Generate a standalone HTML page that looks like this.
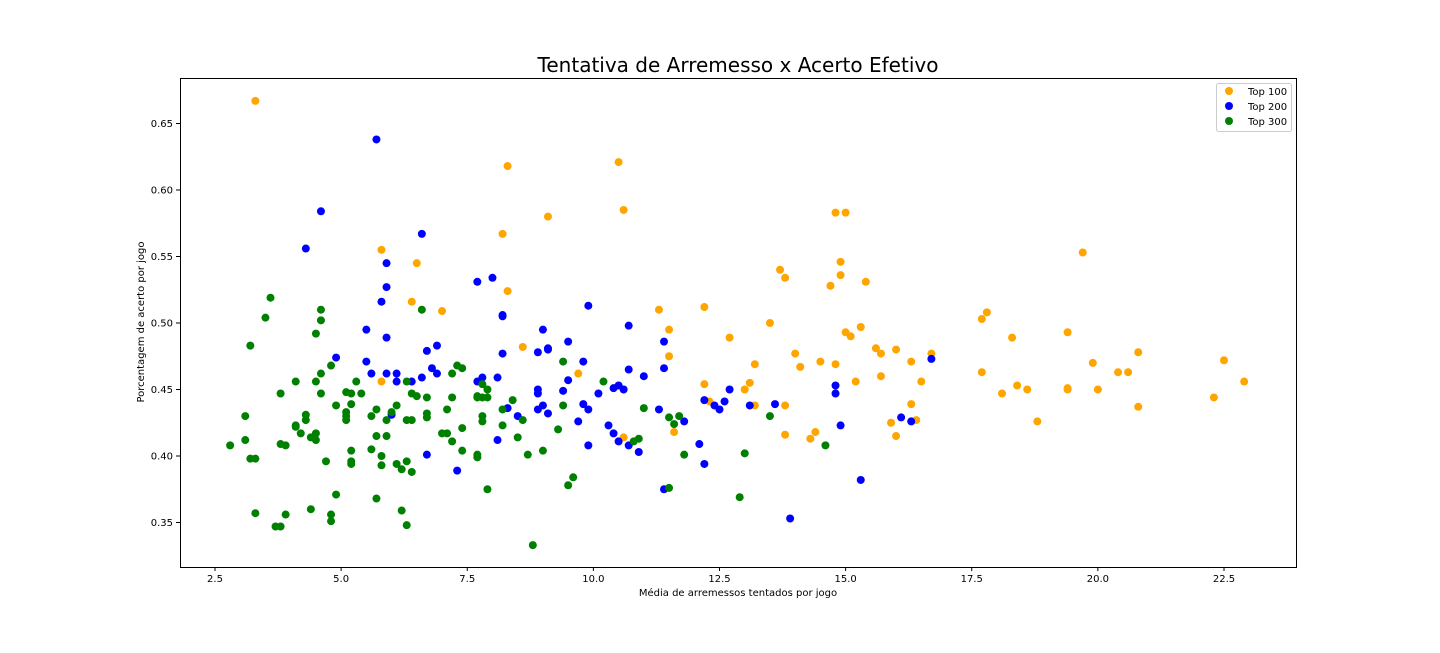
<!DOCTYPE html>
<html><head><meta charset="utf-8"><style>
body{margin:0;background:#fff;width:1440px;height:648px;overflow:hidden;font-family:"Liberation Sans","DejaVu Sans",sans-serif}
svg text{font-family:"DejaVu Sans","Liberation Sans",sans-serif}
</style></head><body>
<svg id="chart" width="1440" height="648" xmlns="http://www.w3.org/2000/svg">
<text x="738" y="72" font-size="20" text-anchor="middle" fill="#000">Tentativa de Arremesso x Acerto Efetivo</text>
<g id="plot"></g>
<rect x="180.5" y="78.5" width="1116" height="489" fill="none" stroke="#000" stroke-width="1"/>
<g id="xticks"></g><g id="yticks"></g>
<text x="738" y="596" font-size="10" text-anchor="middle">Média de arremessos tentados por jogo</text>
<text x="144" y="322" font-size="10" text-anchor="middle" transform="rotate(-90 144 322)">Porcentagem de acerto por jogo</text>
<g>
<rect x="1216.5" y="83.5" width="75" height="48" rx="2" fill="#fff" stroke="#ccc"/>
<g><circle cx="1229" cy="91" r="4" fill="orange"/><text x="1248" y="95" font-size="10">Top 100</text></g>
<g><circle cx="1229" cy="106" r="4" fill="blue"/><text x="1248" y="110" font-size="10">Top 200</text></g>
<g><circle cx="1229" cy="121" r="4" fill="green"/><text x="1248" y="125" font-size="10">Top 300</text></g>
</g>
</svg>
<script>
const xTicks=[2.5,5.0,7.5,10.0,12.5,15.0,17.5,20.0,22.5];
const yTicks=[0.35,0.40,0.45,0.50,0.55,0.60,0.65];
const top100X=[3.3,5.8,5.8,6.5,6.4,7.0,8.2,8.3,8.3,8.6,9.1,9.7,10.5,10.6,10.6,11.3,11.5,11.5,11.6,12.2,12.2,12.3,12.7,13.0,13.1,13.2,13.2,13.5,13.7,13.8,13.8,13.8,14.0,14.1,14.3,14.4,14.5,14.7,14.8,14.8,14.9,14.9,15.0,15.0,15.1,15.2,15.3,15.4,15.6,15.7,15.7,15.9,16.0,16.0,16.3,16.3,16.4,16.5,16.7,17.7,17.8,17.7,18.1,18.3,18.4,18.6,18.8,19.4,19.4,19.4,19.7,19.9,20.0,20.4,20.6,20.8,20.8,22.3,22.5,22.9];
const top100Y=[0.667,0.555,0.456,0.545,0.516,0.509,0.567,0.618,0.524,0.482,0.580,0.462,0.621,0.585,0.414,0.510,0.495,0.475,0.418,0.512,0.454,0.441,0.489,0.450,0.455,0.469,0.438,0.500,0.540,0.534,0.438,0.416,0.477,0.467,0.413,0.418,0.471,0.528,0.583,0.469,0.546,0.536,0.583,0.493,0.490,0.456,0.497,0.531,0.481,0.477,0.460,0.425,0.480,0.415,0.471,0.439,0.427,0.456,0.477,0.503,0.508,0.463,0.447,0.489,0.453,0.450,0.426,0.493,0.451,0.450,0.553,0.470,0.450,0.463,0.463,0.478,0.437,0.444,0.472,0.456];
const top200X=[4.3,4.6,4.9,5.5,5.5,5.6,5.7,5.8,5.9,5.9,5.9,5.9,6.0,6.1,6.1,6.4,6.6,6.6,6.7,6.7,6.8,6.9,6.9,7.3,7.7,7.7,7.8,8.0,8.1,8.1,8.2,8.2,8.2,8.3,8.5,8.9,8.9,8.9,8.9,9.0,9.0,9.1,9.1,9.1,9.4,9.5,9.5,9.7,9.8,9.8,9.9,9.9,9.9,10.1,10.3,10.4,10.4,10.5,10.5,10.6,10.7,10.7,10.7,10.9,11.0,11.3,11.4,11.4,11.4,11.8,12.1,12.2,12.2,12.4,12.5,12.6,12.7,13.1,13.6,13.9,14.8,14.8,14.9,15.3,16.1,16.3,16.7];
const top200Y=[0.556,0.584,0.474,0.495,0.471,0.462,0.638,0.516,0.545,0.527,0.489,0.462,0.431,0.462,0.456,0.456,0.567,0.459,0.479,0.401,0.466,0.483,0.462,0.389,0.531,0.456,0.459,0.534,0.459,0.412,0.506,0.505,0.477,0.436,0.430,0.478,0.450,0.447,0.435,0.495,0.438,0.481,0.480,0.432,0.449,0.486,0.457,0.426,0.471,0.439,0.513,0.435,0.408,0.447,0.423,0.417,0.451,0.453,0.411,0.450,0.498,0.465,0.408,0.403,0.460,0.435,0.486,0.466,0.375,0.426,0.409,0.442,0.394,0.438,0.435,0.441,0.450,0.438,0.439,0.353,0.453,0.447,0.423,0.382,0.429,0.426,0.473];
const top300X=[2.8,3.1,3.1,3.2,3.2,3.3,3.3,3.5,3.6,3.7,3.8,3.8,3.8,3.9,3.9,4.1,4.1,4.1,4.2,4.3,4.3,4.4,4.4,4.5,4.5,4.5,4.5,4.6,4.6,4.6,4.6,4.7,4.8,4.8,4.8,4.9,4.9,5.1,5.1,5.1,5.1,5.2,5.2,5.2,5.2,5.2,5.3,5.4,5.6,5.6,5.7,5.7,5.7,5.8,5.8,5.9,5.9,6.0,6.1,6.1,6.2,6.2,6.3,6.3,6.3,6.3,6.4,6.4,6.4,6.5,6.6,6.7,6.7,6.7,7.0,7.1,7.1,7.2,7.2,7.2,7.3,7.4,7.4,7.4,7.7,7.7,7.7,7.7,7.8,7.8,7.8,7.8,7.9,7.9,7.9,8.2,8.2,8.4,8.5,8.6,8.7,8.8,9.0,9.3,9.4,9.4,9.5,9.6,10.2,10.8,10.9,11.0,11.5,11.5,11.6,11.7,11.8,12.9,13.0,13.5,14.6];
const top300Y=[0.408,0.430,0.412,0.483,0.398,0.398,0.357,0.504,0.519,0.347,0.447,0.409,0.347,0.408,0.356,0.456,0.423,0.422,0.417,0.431,0.427,0.414,0.360,0.492,0.456,0.417,0.412,0.510,0.502,0.462,0.447,0.396,0.468,0.356,0.351,0.438,0.371,0.448,0.433,0.430,0.427,0.439,0.447,0.404,0.396,0.394,0.456,0.447,0.430,0.405,0.435,0.415,0.368,0.400,0.393,0.427,0.415,0.433,0.438,0.394,0.390,0.359,0.456,0.427,0.396,0.348,0.427,0.388,0.447,0.445,0.510,0.444,0.432,0.429,0.417,0.435,0.417,0.462,0.444,0.411,0.468,0.466,0.421,0.404,0.445,0.444,0.401,0.399,0.454,0.444,0.430,0.426,0.450,0.444,0.375,0.435,0.423,0.442,0.414,0.427,0.401,0.333,0.404,0.420,0.471,0.438,0.378,0.384,0.456,0.411,0.413,0.436,0.429,0.376,0.424,0.430,0.401,0.369,0.402,0.430,0.408];

const NS='http://www.w3.org/2000/svg';
function xs(v){return 215+(v-2.5)*50.45;}
function ys(v){return 456-(v-0.40)*1330;}
const plot=document.getElementById('plot');
function series(X,Y,color,name){
  for(let i=0;i<X.length;i++){
    const c=document.createElementNS(NS,'circle');
    c.setAttribute('cx',xs(X[i]));c.setAttribute('cy',ys(Y[i]));c.setAttribute('r',4);c.setAttribute('fill',color);
    
    
    plot.appendChild(c);
  }
}
series(top100X,top100Y,'orange','point-top-100');
series(top200X,top200Y,'blue','point-top-200');
series(top300X,top300Y,'green','point-top-300');
const xg=document.getElementById('xticks');
xTicks.forEach(t=>{
  const x=xs(t);
  const l=document.createElementNS(NS,'line');
  l.setAttribute('x1',x);l.setAttribute('x2',x);l.setAttribute('y1',567);l.setAttribute('y2',571);l.setAttribute('stroke','#000');
  
  
  xg.appendChild(l);
  const tx=document.createElementNS(NS,'text');
  tx.setAttribute('x',x);tx.setAttribute('y',582);tx.setAttribute('font-size','10');tx.setAttribute('text-anchor','middle');
  tx.textContent=t.toFixed(1);
  
  
  xg.appendChild(tx);
});
const yg=document.getElementById('yticks');
yTicks.forEach(t=>{
  const y=ys(t);
  const l=document.createElementNS(NS,'line');
  l.setAttribute('x1',176);l.setAttribute('x2',180);l.setAttribute('y1',y);l.setAttribute('y2',y);l.setAttribute('stroke','#000');
  
  
  yg.appendChild(l);
  const tx=document.createElementNS(NS,'text');
  tx.setAttribute('x',173);tx.setAttribute('y',y+3.5);tx.setAttribute('font-size','10');tx.setAttribute('text-anchor','end');
  tx.textContent=t.toFixed(2);
  
  
  yg.appendChild(tx);
});
</script>
</body></html>
